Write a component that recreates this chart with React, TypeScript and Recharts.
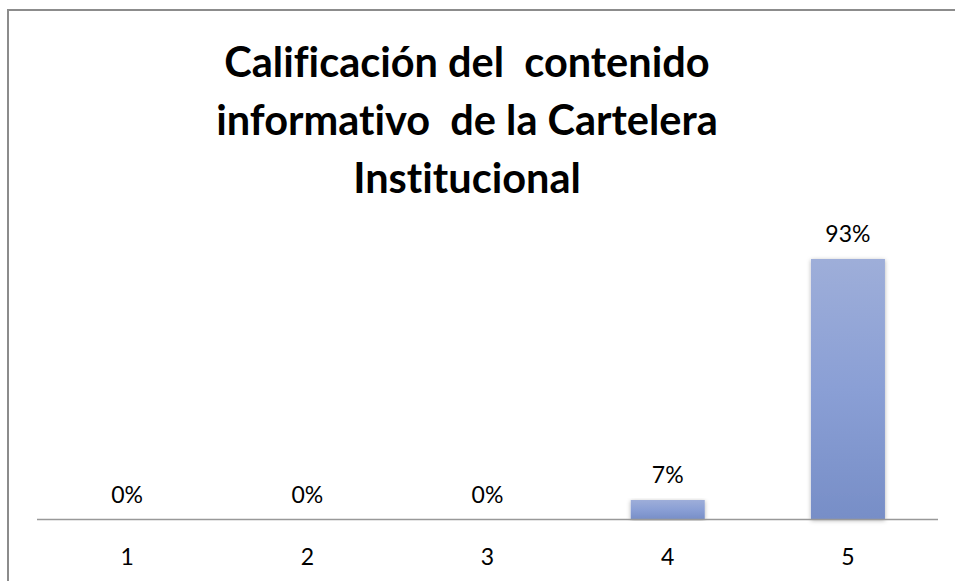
import { ComposedChart, Bar, Line, XAxis, YAxis, LabelList } from "recharts";

// survey answers (rating 1..5) and the share of respondents for each
const ratings = ["1", "2", "3", "4", "5"];
const shares = [0, 0, 0, 0.07, 0.93];
const titleLines = [
  "Calificación del  contenido",
  "informativo  de la Cartelera",
  "Institucional",
];

const data = ratings.map((r, i) => ({ rating: r, share: shares[i] }));

const pct = (v: any) => `${Math.round(Number(v) * 100)}%`;
const FONT = "Lato, sans-serif";

export default function App() {
  return (
    <div style={{ position: "absolute", left: 0, top: 0, width: 955, height: 581, background: "#fff", overflow: "hidden" }}>
      {/* chart frame, cropped at right and bottom */}
      <div
        style={{
          position: "absolute",
          left: 7,
          top: 9,
          width: 960,
          height: 600,
          borderLeft: "2px solid #8c8c8c",
          borderTop: "2px solid #8c8c8c",
        }}
      />
      <div
        style={{
          position: "absolute",
          left: 0,
          top: 32,
          width: 934,
          textAlign: "center",
          fontFamily: FONT,
          fontWeight: 700,
          fontSize: 41.5,
          lineHeight: "58px",
          color: "#000",
          whiteSpace: "pre",
          fontVariantLigatures: "none",
        }}
      >
        {titleLines.map((l) => (
          <div key={l}>{l}</div>
        ))}
      </div>
      <div style={{ position: "absolute", left: 0, top: 0 }}>
        <ComposedChart
          width={955}
          height={581}
          data={data}
          margin={{ top: 239.5, right: 17, bottom: 31.5, left: 37 }}
          barCategoryGap="29.5%"
        >
          <defs>
            <linearGradient id="barFill" x1="0" y1="0" x2="0" y2="1">
              <stop offset="0%" stopColor="#9eaed9" />
              <stop offset="50%" stopColor="#8a9fd5" />
              <stop offset="100%" stopColor="#778ec7" />
            </linearGradient>
            <filter id="barShadow" x="-20%" y="-5%" width="140%" height="110%">
              <feDropShadow dx="0" dy="1" stdDeviation="2" floodColor="#000" floodOpacity="0.3" />
            </filter>
          </defs>
          <XAxis
            dataKey="rating"
            height={30}
            tickSize={0}
            tickMargin={29}
            axisLine={{ stroke: "#999999", strokeWidth: 1.5 }}
            tickLine={false}
            tick={{ fill: "#000", fontSize: 23, fontFamily: FONT }}
          />
          <YAxis hide domain={[0, 1]} />
          <Bar
            dataKey="share"
            fill="url(#barFill)"
            filter="url(#barShadow)"
            isAnimationActive={false}
          />
          {/* invisible line only used to place the value labels, zeros included */}
          <Line
            dataKey="share"
            stroke="none"
            dot={false}
            activeDot={false}
            isAnimationActive={false}
          >
            <LabelList
              dataKey="share"
              position="top"
              offset={17}
              formatter={pct}
              fill="#000"
              fontSize={23}
              fontFamily={FONT}
            />
          </Line>
        </ComposedChart>
      </div>
    </div>
  );
}
